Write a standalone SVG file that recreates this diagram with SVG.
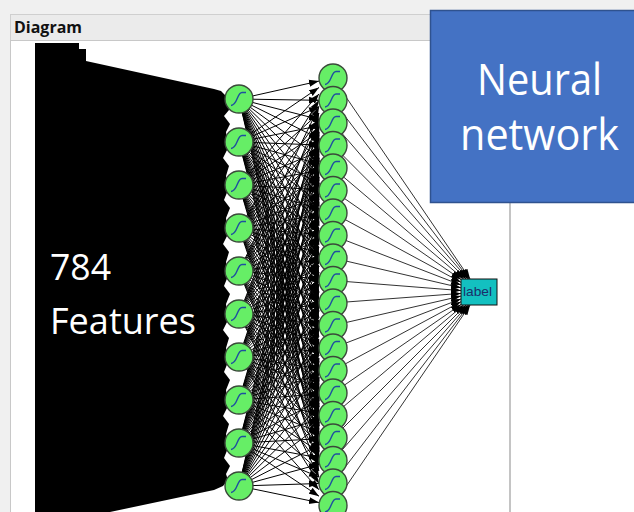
<svg xmlns="http://www.w3.org/2000/svg" width="634" height="512" viewBox="0 0 634 512">
<style>
.w{stroke:#000;stroke-width:1;fill:none;marker-end:url(#ah)}
.o{stroke:#333;stroke-width:1;fill:none;marker-end:url(#ah)}
.big{font-family:"Open Sans","Liberation Sans",sans-serif;fill:#fff}
</style>
<defs>
<marker id="ah" markerUnits="userSpaceOnUse" viewBox="-10 -4 10 8" refX="0" refY="0" markerWidth="10" markerHeight="8" orient="auto"><path d="M-10,-3.5L0,0L-10,3.5Z" fill="#000"/></marker>
<g id="neuron"><circle r="14" fill="#66EE66" stroke="#3a4a3a" stroke-width="1.4"/><path d="M-8,6.5 C-1.5,6.5 -2,-6.5 3,-6.5 L7,-6.5" fill="none" stroke="#1f4fa0" stroke-width="1.4"/></g>
</defs>
<rect width="634" height="512" fill="#F0F0F0"/>
<rect x="510" y="41" width="124" height="471" fill="#FFFFFF"/>
<rect x="10.5" y="14.5" width="499" height="26" fill="#EBEBEB" stroke="#CFCFCF"/>
<rect x="11" y="41" width="498" height="471" fill="#FFFFFF"/>
<line x1="10.5" y1="40" x2="10.5" y2="512" stroke="#C8C8C8"/>
<line x1="510" y1="40" x2="510" y2="512" stroke="#C4C4C4" stroke-width="2"/>
<line x1="10" y1="40.5" x2="510" y2="40.5" stroke="#C8C8C8"/>
<text x="14" y="33" font-family="'Open Sans','Liberation Sans',sans-serif" font-weight="bold" font-size="16" fill="#111" textLength="68" lengthAdjust="spacingAndGlyphs">Diagram</text>
<g id="inputs">
<path d="M35,43 H79 V49 H86 V61 L214,89 L221,91 L227,97 L229,110 L224,116 L230,124 L226,132 L228,148 L223,158 L229,166 L226,176 L228,190 L224,200 L230,208 L226,218 L228,234 L223,244 L229,252 L226,262 L228,276 L224,286 L230,294 L226,304 L228,320 L223,330 L229,338 L226,348 L228,362 L224,372 L230,380 L226,390 L228,406 L223,416 L229,424 L226,434 L228,448 L224,458 L230,466 L226,474 L228,480 L223,486 L214,490 L110,512 H35 Z" fill="#000"/>
</g>
<g id="connectors">
<path class="w" d="M239 99L319 81.1"/><path class="w" d="M239 99L319 100.3"/><path class="w" d="M239 99L319 119.4"/><path class="w" d="M239 99L319 138.6"/><path class="w" d="M239 99L319 157.7"/><path class="w" d="M239 99L319 176.9"/><path class="w" d="M239 99L319 196"/><path class="w" d="M239 99L319 215.2"/><path class="w" d="M239 99L319 234.3"/><path class="w" d="M239 99L319 253.5"/><path class="w" d="M239 99L319 272.6"/><path class="w" d="M239 99L319 291.8"/><path class="w" d="M239 99L319 310.9"/><path class="w" d="M239 99L319 330.1"/><path class="w" d="M239 99L319 349.2"/><path class="w" d="M239 99L319 368.4"/><path class="w" d="M239 99L319 387.5"/><path class="w" d="M239 99L319 406.7"/><path class="w" d="M239 99L319 425.8"/><path class="w" d="M239 99L319 445"/>
<path class="w" d="M239 142L319 87.5"/><path class="w" d="M239 142L319 106.7"/><path class="w" d="M239 142L319 125.8"/><path class="w" d="M239 142L319 145"/><path class="w" d="M239 142L319 164.1"/><path class="w" d="M239 142L319 183.3"/><path class="w" d="M239 142L319 202.4"/><path class="w" d="M239 142L319 221.6"/><path class="w" d="M239 142L319 240.7"/><path class="w" d="M239 142L319 259.9"/><path class="w" d="M239 142L319 279"/><path class="w" d="M239 142L319 298.2"/><path class="w" d="M239 142L319 317.3"/><path class="w" d="M239 142L319 336.5"/><path class="w" d="M239 142L319 355.6"/><path class="w" d="M239 142L319 374.8"/><path class="w" d="M239 142L319 393.9"/><path class="w" d="M239 142L319 413.1"/><path class="w" d="M239 142L319 432.2"/><path class="w" d="M239 142L319 451.4"/>
<path class="w" d="M239 185L319 93.9"/><path class="w" d="M239 185L319 113.1"/><path class="w" d="M239 185L319 132.2"/><path class="w" d="M239 185L319 151.4"/><path class="w" d="M239 185L319 170.5"/><path class="w" d="M239 185L319 189.7"/><path class="w" d="M239 185L319 208.8"/><path class="w" d="M239 185L319 228"/><path class="w" d="M239 185L319 247.1"/><path class="w" d="M239 185L319 266.3"/><path class="w" d="M239 185L319 285.4"/><path class="w" d="M239 185L319 304.6"/><path class="w" d="M239 185L319 323.7"/><path class="w" d="M239 185L319 342.9"/><path class="w" d="M239 185L319 362"/><path class="w" d="M239 185L319 381.2"/><path class="w" d="M239 185L319 400.3"/><path class="w" d="M239 185L319 419.5"/><path class="w" d="M239 185L319 438.6"/><path class="w" d="M239 185L319 457.8"/>
<path class="w" d="M239 228L319 100.3"/><path class="w" d="M239 228L319 119.5"/><path class="w" d="M239 228L319 138.6"/><path class="w" d="M239 228L319 157.8"/><path class="w" d="M239 228L319 176.9"/><path class="w" d="M239 228L319 196.1"/><path class="w" d="M239 228L319 215.2"/><path class="w" d="M239 228L319 234.4"/><path class="w" d="M239 228L319 253.5"/><path class="w" d="M239 228L319 272.7"/><path class="w" d="M239 228L319 291.8"/><path class="w" d="M239 228L319 311"/><path class="w" d="M239 228L319 330.1"/><path class="w" d="M239 228L319 349.3"/><path class="w" d="M239 228L319 368.4"/><path class="w" d="M239 228L319 387.6"/><path class="w" d="M239 228L319 406.7"/><path class="w" d="M239 228L319 425.9"/><path class="w" d="M239 228L319 445"/><path class="w" d="M239 228L319 464.2"/>
<path class="w" d="M239 271L319 106.7"/><path class="w" d="M239 271L319 125.9"/><path class="w" d="M239 271L319 145"/><path class="w" d="M239 271L319 164.2"/><path class="w" d="M239 271L319 183.3"/><path class="w" d="M239 271L319 202.5"/><path class="w" d="M239 271L319 221.6"/><path class="w" d="M239 271L319 240.8"/><path class="w" d="M239 271L319 259.9"/><path class="w" d="M239 271L319 279.1"/><path class="w" d="M239 271L319 298.2"/><path class="w" d="M239 271L319 317.4"/><path class="w" d="M239 271L319 336.5"/><path class="w" d="M239 271L319 355.7"/><path class="w" d="M239 271L319 374.8"/><path class="w" d="M239 271L319 394"/><path class="w" d="M239 271L319 413.1"/><path class="w" d="M239 271L319 432.3"/><path class="w" d="M239 271L319 451.4"/><path class="w" d="M239 271L319 470.6"/>
<path class="w" d="M239 314L319 113.1"/><path class="w" d="M239 314L319 132.3"/><path class="w" d="M239 314L319 151.4"/><path class="w" d="M239 314L319 170.6"/><path class="w" d="M239 314L319 189.7"/><path class="w" d="M239 314L319 208.9"/><path class="w" d="M239 314L319 228"/><path class="w" d="M239 314L319 247.2"/><path class="w" d="M239 314L319 266.3"/><path class="w" d="M239 314L319 285.5"/><path class="w" d="M239 314L319 304.6"/><path class="w" d="M239 314L319 323.8"/><path class="w" d="M239 314L319 342.9"/><path class="w" d="M239 314L319 362.1"/><path class="w" d="M239 314L319 381.2"/><path class="w" d="M239 314L319 400.4"/><path class="w" d="M239 314L319 419.5"/><path class="w" d="M239 314L319 438.7"/><path class="w" d="M239 314L319 457.8"/><path class="w" d="M239 314L319 477"/>
<path class="w" d="M239 357L319 119.6"/><path class="w" d="M239 357L319 138.7"/><path class="w" d="M239 357L319 157.9"/><path class="w" d="M239 357L319 177"/><path class="w" d="M239 357L319 196.2"/><path class="w" d="M239 357L319 215.3"/><path class="w" d="M239 357L319 234.5"/><path class="w" d="M239 357L319 253.6"/><path class="w" d="M239 357L319 272.8"/><path class="w" d="M239 357L319 291.9"/><path class="w" d="M239 357L319 311"/><path class="w" d="M239 357L319 330.2"/><path class="w" d="M239 357L319 349.3"/><path class="w" d="M239 357L319 368.5"/><path class="w" d="M239 357L319 387.6"/><path class="w" d="M239 357L319 406.8"/><path class="w" d="M239 357L319 425.9"/><path class="w" d="M239 357L319 445.1"/><path class="w" d="M239 357L319 464.2"/><path class="w" d="M239 357L319 483.4"/>
<path class="w" d="M239 400L319 126"/><path class="w" d="M239 400L319 145.1"/><path class="w" d="M239 400L319 164.3"/><path class="w" d="M239 400L319 183.4"/><path class="w" d="M239 400L319 202.6"/><path class="w" d="M239 400L319 221.7"/><path class="w" d="M239 400L319 240.9"/><path class="w" d="M239 400L319 260"/><path class="w" d="M239 400L319 279.2"/><path class="w" d="M239 400L319 298.3"/><path class="w" d="M239 400L319 317.5"/><path class="w" d="M239 400L319 336.6"/><path class="w" d="M239 400L319 355.8"/><path class="w" d="M239 400L319 374.9"/><path class="w" d="M239 400L319 394.1"/><path class="w" d="M239 400L319 413.2"/><path class="w" d="M239 400L319 432.4"/><path class="w" d="M239 400L319 451.5"/><path class="w" d="M239 400L319 470.7"/><path class="w" d="M239 400L319 489.8"/>
<path class="w" d="M239 443L319 132.4"/><path class="w" d="M239 443L319 151.5"/><path class="w" d="M239 443L319 170.7"/><path class="w" d="M239 443L319 189.8"/><path class="w" d="M239 443L319 209"/><path class="w" d="M239 443L319 228.1"/><path class="w" d="M239 443L319 247.3"/><path class="w" d="M239 443L319 266.4"/><path class="w" d="M239 443L319 285.6"/><path class="w" d="M239 443L319 304.7"/><path class="w" d="M239 443L319 323.9"/><path class="w" d="M239 443L319 343"/><path class="w" d="M239 443L319 362.2"/><path class="w" d="M239 443L319 381.3"/><path class="w" d="M239 443L319 400.5"/><path class="w" d="M239 443L319 419.6"/><path class="w" d="M239 443L319 438.8"/><path class="w" d="M239 443L319 457.9"/><path class="w" d="M239 443L319 477.1"/><path class="w" d="M239 443L319 496.2"/>
<path class="w" d="M239 486L319 138.8"/><path class="w" d="M239 486L319 157.9"/><path class="w" d="M239 486L319 177.1"/><path class="w" d="M239 486L319 196.2"/><path class="w" d="M239 486L319 215.4"/><path class="w" d="M239 486L319 234.5"/><path class="w" d="M239 486L319 253.7"/><path class="w" d="M239 486L319 272.8"/><path class="w" d="M239 486L319 292"/><path class="w" d="M239 486L319 311.1"/><path class="w" d="M239 486L319 330.3"/><path class="w" d="M239 486L319 349.4"/><path class="w" d="M239 486L319 368.6"/><path class="w" d="M239 486L319 387.7"/><path class="w" d="M239 486L319 406.9"/><path class="w" d="M239 486L319 426"/><path class="w" d="M239 486L319 445.2"/><path class="w" d="M239 486L319 464.3"/><path class="w" d="M239 486L319 483.5"/><path class="w" d="M239 486L319 502.6"/>
<path class="o" d="M333 78L470.1 279"/><path class="o" d="M333 100.5L469.1 279"/><path class="o" d="M333 123L467.8 279"/><path class="o" d="M333 145.5L466 279"/><path class="o" d="M333 168L463.7 279"/><path class="o" d="M333 190.5L461 279.5"/><path class="o" d="M333 213L461 282.3"/><path class="o" d="M333 235.5L461 285"/><path class="o" d="M333 258L461 287.8"/><path class="o" d="M333 280.5L461 290.6"/><path class="o" d="M333 303L461 293.4"/><path class="o" d="M333 325.5L461 296.1"/><path class="o" d="M333 348L461 298.9"/><path class="o" d="M333 370.5L461 301.7"/><path class="o" d="M333 393L461 304.5"/><path class="o" d="M333 415.5L463.6 305"/><path class="o" d="M333 438L466 305"/><path class="o" d="M333 460.5L467.7 305"/><path class="o" d="M333 483L469.1 305"/><path class="o" d="M333 505.5L470.1 305"/>
</g>
<g id="layer1">
<g id="h1_0"><use href="#neuron" x="239" y="99"/></g>
<g id="h1_1"><use href="#neuron" x="239" y="142"/></g>
<g id="h1_2"><use href="#neuron" x="239" y="185"/></g>
<g id="h1_3"><use href="#neuron" x="239" y="228"/></g>
<g id="h1_4"><use href="#neuron" x="239" y="271"/></g>
<g id="h1_5"><use href="#neuron" x="239" y="314"/></g>
<g id="h1_6"><use href="#neuron" x="239" y="357"/></g>
<g id="h1_7"><use href="#neuron" x="239" y="400"/></g>
<g id="h1_8"><use href="#neuron" x="239" y="443"/></g>
<g id="h1_9"><use href="#neuron" x="239" y="486"/></g>
</g>
<g id="layer2">
<g id="h2_0"><use href="#neuron" x="333" y="78"/></g>
<g id="h2_1"><use href="#neuron" x="333" y="100.5"/></g>
<g id="h2_2"><use href="#neuron" x="333" y="123"/></g>
<g id="h2_3"><use href="#neuron" x="333" y="145.5"/></g>
<g id="h2_4"><use href="#neuron" x="333" y="168"/></g>
<g id="h2_5"><use href="#neuron" x="333" y="190.5"/></g>
<g id="h2_6"><use href="#neuron" x="333" y="213"/></g>
<g id="h2_7"><use href="#neuron" x="333" y="235.5"/></g>
<g id="h2_8"><use href="#neuron" x="333" y="258"/></g>
<g id="h2_9"><use href="#neuron" x="333" y="280.5"/></g>
<g id="h2_10"><use href="#neuron" x="333" y="303"/></g>
<g id="h2_11"><use href="#neuron" x="333" y="325.5"/></g>
<g id="h2_12"><use href="#neuron" x="333" y="348"/></g>
<g id="h2_13"><use href="#neuron" x="333" y="370.5"/></g>
<g id="h2_14"><use href="#neuron" x="333" y="393"/></g>
<g id="h2_15"><use href="#neuron" x="333" y="415.5"/></g>
<g id="h2_16"><use href="#neuron" x="333" y="438"/></g>
<g id="h2_17"><use href="#neuron" x="333" y="460.5"/></g>
<g id="h2_18"><use href="#neuron" x="333" y="483"/></g>
<g id="h2_19"><use href="#neuron" x="333" y="505.5"/></g>
</g>
<g id="label">
<rect x="461" y="279" width="36" height="26" fill="#13C0C0" stroke="#111" stroke-width="1"/>
<text x="463" y="296" font-family="'Liberation Sans',Arial,sans-serif" font-size="13" fill="#1a2f6a" textLength="29" lengthAdjust="spacingAndGlyphs">label</text>
</g>
<g id="features-text">
<text class="big" x="50" y="280" font-size="36" textLength="61" lengthAdjust="spacingAndGlyphs">784</text>
<text class="big" x="50" y="334" font-size="36" textLength="146" lengthAdjust="spacingAndGlyphs">Features</text>
</g>
<g id="title">
<rect x="430.5" y="10.5" width="210" height="192" fill="#4472C4" stroke="#2F528F" stroke-width="1.5"/>
<text class="big" x="539.5" y="95" font-size="44" text-anchor="middle" textLength="125" lengthAdjust="spacingAndGlyphs">Neural</text>
<text class="big" x="539.5" y="150" font-size="44" text-anchor="middle" textLength="159" lengthAdjust="spacingAndGlyphs">network</text>
</g>
</svg>
